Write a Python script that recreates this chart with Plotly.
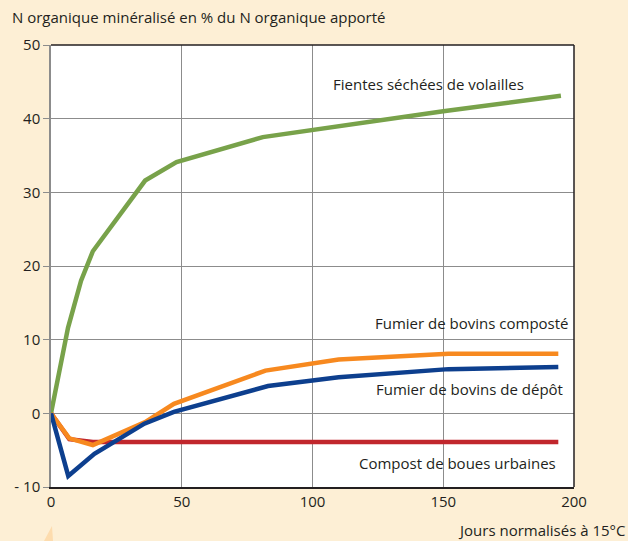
import plotly.graph_objects as go

# Data (days normalised at 15°C, % of organic N mineralised)
x_fientes = [0, 6.5, 11.5, 16, 36, 48, 81, 110, 150, 195]
y_fientes = [0, 11.6, 18, 22, 31.6, 34.1, 37.5, 39, 41, 43.1]

x_compose = [0, 7, 16, 36, 47, 82, 110, 152, 194]
y_compose = [0, -3.4, -4.3, -1.2, 1.3, 5.8, 7.3, 8.1, 8.1]

x_depot = [0, 6.6, 16.6, 35.7, 47, 83, 110, 152, 194]
y_depot = [0, -8.5, -5.5, -1.4, 0.2, 3.7, 4.9, 6.0, 6.3]

x_boues = [0, 7, 16, 194]
y_boues = [0, -3.5, -3.9, -3.9]

y_ticks = [-10, 0, 10, 20, 30, 40, 50]
y_tick_labels = ["- 10", "0", "10", "20", "30", "40", "50"]
x_ticks = [0, 50, 100, 150, 200]

FONT = "Open Sans"
FS = 15
W, H = 628, 541
L, R, T, B = 51, 54, 45, 54
PW, PH = W - L - R, H - T - B

def px(x):
    return (x - L) / PW

def py(y):
    return (H - B - y) / PH

fig = go.Figure()

def add(x, y, color):
    fig.add_trace(go.Scatter(x=x, y=y, mode="lines",
                             line=dict(color=color, width=4.5),
                             showlegend=False, hoverinfo="skip"))

add(x_boues, y_boues, "#c1272d")
add(x_fientes, y_fientes, "#78a24a")
add(x_compose, y_compose, "#f7891f")
add(x_depot, y_depot, "#0d3f8e")

fig.update_layout(
    width=W, height=H,
    margin=dict(l=L, r=R, t=T, b=B),
    paper_bgcolor="#fdefd5", plot_bgcolor="#ffffff",
    font=dict(family=FONT, size=FS, color="#231f20"),
    showlegend=False,
)
fig.update_xaxes(range=[0, 200], tickvals=x_ticks, showgrid=True,
                 gridcolor="#8c8c8c", gridwidth=1, zeroline=False,
                 showline=True, linecolor="#231f20", linewidth=1.5,
                 ticks="", tickfont=dict(size=FS, family=FONT))
fig.update_yaxes(range=[-10, 50], tickvals=y_ticks, ticktext=y_tick_labels,
                 showgrid=True, gridcolor="#8c8c8c", gridwidth=1, zeroline=False,
                 showline=True, linecolor="#8c8c8c", linewidth=1.5,
                 ticks="outside", ticklen=6, tickcolor="#8c8c8c",
                 tickfont=dict(size=FS, family=FONT))

# top and right borders
fig.add_shape(type="line", xref="paper", yref="paper", x0=0, x1=1, y0=1, y1=1,
              line=dict(color="#231f20", width=1.5))
fig.add_shape(type="line", xref="paper", yref="paper", x0=1, x1=1, y0=0, y1=1,
              line=dict(color="#231f20", width=1.5))

# faint decorative wedge bottom-left
fig.add_shape(type="path", xref="paper", yref="paper",
              path=f"M {px(44)} {py(541)} L {px(52)} {py(526)} L {px(53)} {py(541)} Z",
              fillcolor="#fddcae", line=dict(width=0), layer="below")

def note(text, x, y, xanchor="right", xref="x", yref="y"):
    fig.add_annotation(text=text, x=x, y=y, xref=xref, yref=yref, showarrow=False,
                       xanchor=xanchor, yanchor="middle",
                       font=dict(size=FS, family=FONT, color="#231f20"))

note("Fientes séchées de volailles", 181.5, 44.66)
note("Fumier de bovins composté", 198.7, 12.2)
note("Fumier de bovins de dépôt", 196.4, 3.26)
note("Compost de boues urbaines", 193.7, -6.79)

note("N organique minéralisé en % du N organique apporté",
     px(10), py(17), xanchor="left", xref="paper", yref="paper")
note("Jours normalisés à 15°C", px(627), py(530),
     xanchor="right", xref="paper", yref="paper")

fig.write_html("out.html", config={"displayModeBar": False},
               post_script="document.body.style.margin='0';document.body.style.background='#fdefd5';")
